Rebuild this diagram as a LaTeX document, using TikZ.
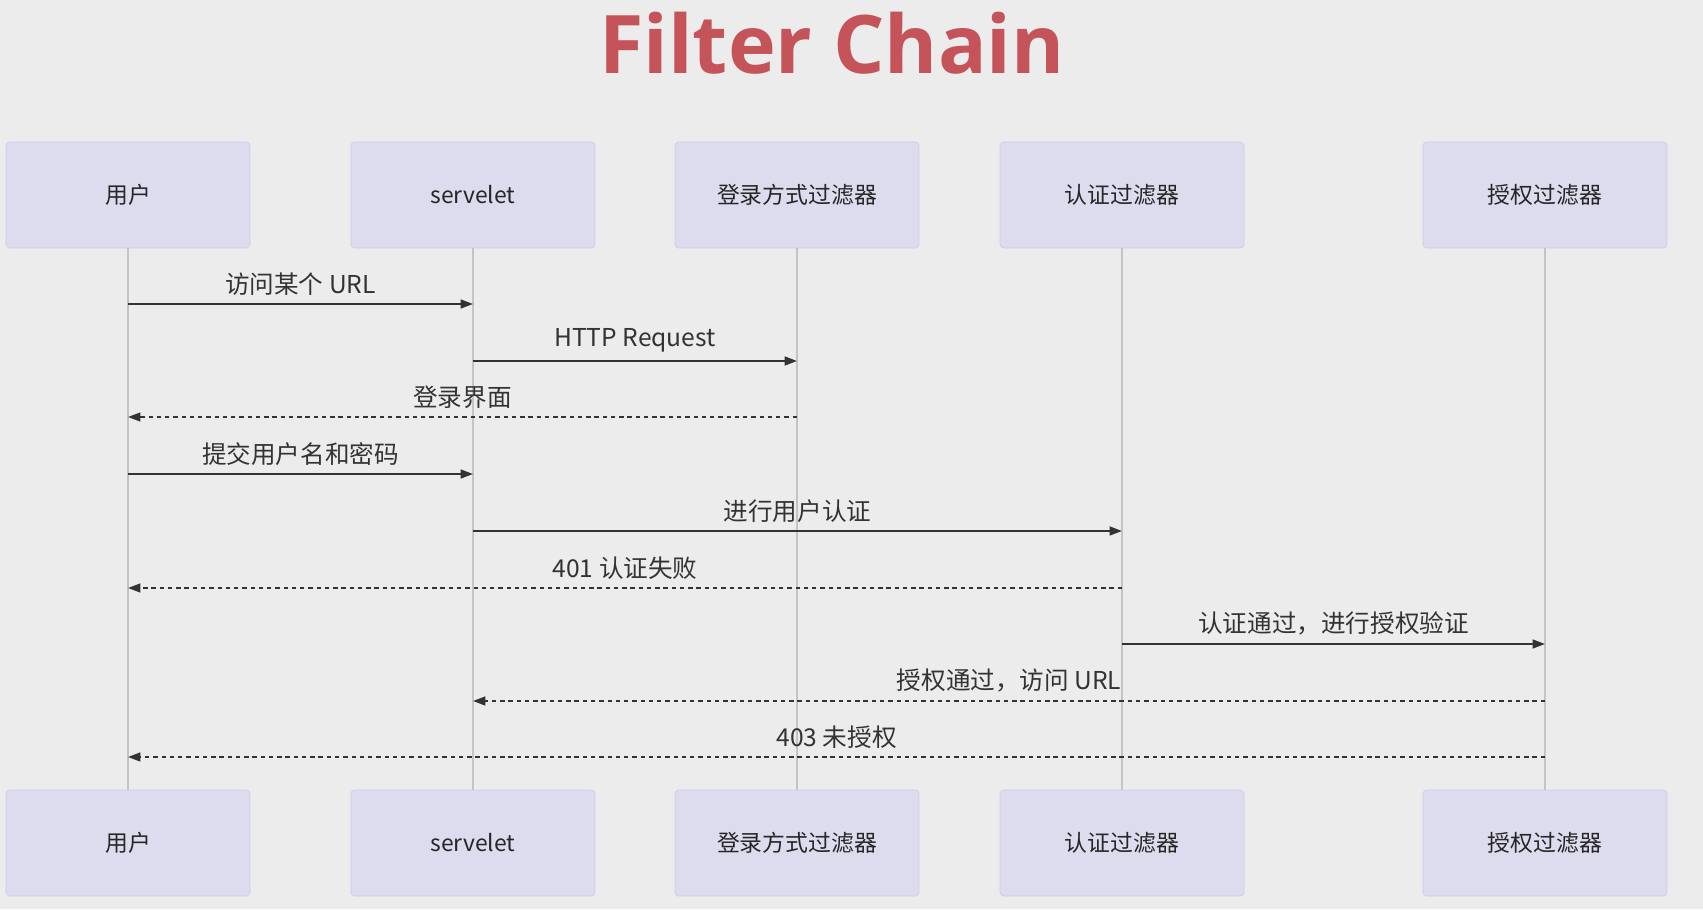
\documentclass[tikz,border=0pt]{standalone}
\usepackage{fontspec}
\setmainfont{Noto Sans CJK SC}
\newfontfamily\titlefont{Open Sans}
\usetikzlibrary{arrows.meta,positioning}
\definecolor{Bg}{RGB}{236,236,237}
\definecolor{Actor}{RGB}{221,220,238}
\definecolor{ActorLine}{RGB}{206,204,230}
\definecolor{Life}{RGB}{196,196,200}
\definecolor{Msg}{RGB}{51,51,51}
\definecolor{Title}{RGB}{196,84,90}
\tikzset{
  actor/.style={draw=ActorLine, fill=Actor, rounded corners=2pt, minimum width=4.88cm, minimum height=2.12cm, font=\fontsize{13}{15}\selectfont, text=black!85},
  life/.style={draw=Life, line width=0.8pt},
  msg/.style={draw=Msg, line width=1.1pt, -{Triangle[length=7pt,width=5pt]}},
  reply/.style={msg, dash pattern=on 2.5pt off 2.2pt},
  lbl/.style={font=\fontsize{14}{16}\selectfont, text=black!80, above=1pt},
}

\begin{document}
\begin{tikzpicture}[x=0.02cm, y=-0.02cm]
    \fill[Bg] (0,0) rectangle (1703,909);
    \node[Title, font=\titlefont\bfseries\fontsize{46}{50}\selectfont, anchor=base] (title) at (832,73) {Filter Chain};
    \foreach \i/\x/\n in {1/128/用户,2/473/servelet,3/797/登录方式过滤器,4/1122/认证过滤器,5/1545/授权过滤器} {
      \node[actor] (t\i) at (\x,195) {\n};
      \node[actor] (b\i) at (\x,843) {\n};
      \draw[life] (t\i.south) -- (b\i.north);
    }
    \foreach \f/\t/\s/\y/\txt in {1/2/msg/304/{访问某个 URL}, 2/3/msg/361/{HTTP Request}, 3/1/reply/417/{登录界面}, 1/2/msg/474/{提交用户名和密码}, 2/4/msg/531/{进行用户认证}, 4/1/reply/588/{401 认证失败}, 4/5/msg/644/{认证通过，进行授权验证}, 5/2/reply/701/{授权通过，访问 URL}, 5/1/reply/757/{403 未授权}} {
      \coordinate (m\y) at (0,\y);
      \draw[\s] (t\f |- m\y) -- node[lbl] {\txt} (t\t |- m\y);
    }
  \end{tikzpicture}
\end{document}
